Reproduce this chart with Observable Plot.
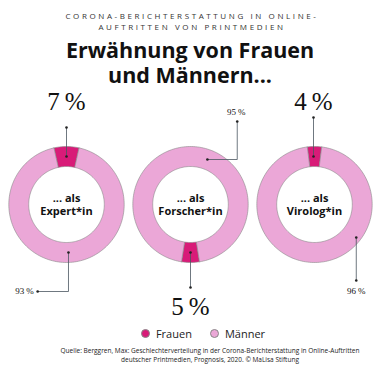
<!DOCTYPE html>
<html><head><meta charset="utf-8">
<script src="https://cdn.jsdelivr.net/npm/d3@7"></script>
<script src="https://cdn.jsdelivr.net/npm/@observablehq/plot@0.6"></script>
<style>
html,body{margin:0;padding:0;background:#fff;}
#wrap{width:380px;font-family:"Open Sans",sans-serif;color:#111;}
.sub{font-size:8px;letter-spacing:2.6px;text-align:center;color:#333;line-height:11px;padding-top:10px;margin-left:4px;}
.title{font-size:21.5px;font-weight:700;text-align:center;line-height:25px;margin-top:5px;color:#111;}
.legend{display:flex;justify-content:center;gap:18px;font-size:11px;color:#222;margin-top:6px;margin-left:26px;height:16px;align-items:center;}
.legend span{display:inline-flex;align-items:center;gap:6px;}
.legend i{display:inline-block;width:7px;height:7px;border-radius:50%;border:0.6px solid #888;}
.cap{font-size:6.5px;text-align:center;line-height:8.5px;color:#222;margin-top:6px;margin-left:40px;}
#chart svg{display:block;}
</style></head>
<body><div id="wrap">
<div class="sub">CORONA-BERICHTERSTATTUNG IN ONLINE-<br>AUFTRITTEN VON PRINTMEDIEN</div>
<div class="title">Erwähnung von Frauen<br>und Männern...</div>
<div id="chart"></div>
<div class="legend" id="legend"></div>
<div class="cap">Quelle: Berggren, Max: Geschlechterverteilung in der Corona-Berichterstattung in Online-Auftritten<br>deutscher Printmedien, Prognosis, 2020. © MaLisa Stiftung</div>
</div>
<script>
// ---- data ----
const categories = ["Expert*in", "Forscher*in", "Virolog*in"];
const frauen = [7, 5, 4];
const maenner = [93, 95, 96];
const seriesNames = ["Frauen", "Männer"];
const seriesColors = ["#d81b78", "#eba7d7"];

// ---- layout (not data) ----
const R_OUT = 58, R_IN = 38, R_MID = 48;
const frauenAt = [0, 180, 0]; // centre angle of Frauen segment (deg from top, clockwise)
const frauenPtr = [
  {path: [[0,-77],[0,-R_MID]], label: [0,-103], big: true, anchor: "middle"},
  {path: [[0,83],[0,R_MID]], label: [0,102], big: true, anchor: "middle"},
  {path: [[-1,-87],[-1,-R_MID]], label: [-1,-103], big: true, anchor: "middle"}
];
const maennerPtr = [
  {path: [[-29,87],[2,87],[2,R_MID]], label: [-33,87], big: false, anchor: "end"},
  {path: [[47,-83],[47,-45],[17,-45]], label: [46,-92], big: false, anchor: "middle"},
  {path: [[42,76],[42,33]], label: [42,87], big: false, anchor: "middle"}
];

// ---- build geometry from values ----
const rad = d => (d - 90) * Math.PI / 180;
function arcPoly(a0, a1) {
  const pts = [];
  const n = Math.max(2, Math.ceil(Math.abs(a1 - a0) / 2));
  for (let i = 0; i <= n; i++) { const a = rad(a0 + (a1 - a0) * i / n); pts.push([R_OUT * Math.cos(a), R_OUT * Math.sin(a)]); }
  for (let i = n; i >= 0; i--) { const a = rad(a0 + (a1 - a0) * i / n); pts.push([R_IN * Math.cos(a), R_IN * Math.sin(a)]); }
  pts.push(pts[0]);
  return pts;
}
const ring = [];
categories.forEach((c, i) => {
  const span = frauen[i] / (frauen[i] + maenner[i]) * 360;
  const f0 = frauenAt[i] - span / 2, f1 = frauenAt[i] + span / 2;
  arcPoly(f0, f1).forEach(([x, y]) => ring.push({cat: c, id: c + "F", s: "Frauen", x, y}));
  arcPoly(f1, f0 + 360).forEach(([x, y]) => ring.push({cat: c, id: c + "M", s: "Männer", x, y}));
});
const lines = [], ends = [], labels = [];
categories.forEach((c, i) => {
  [[frauenPtr[i], frauen[i], "F"], [maennerPtr[i], maenner[i], "M"]].forEach(([p, v, k]) => {
    p.path.forEach(([x, y]) => lines.push({cat: c, id: c + k, x, y}));
    ends.push({cat: c, x: p.path[0][0], y: p.path[0][1]});
    ends.push({cat: c, x: p.path[p.path.length - 1][0], y: p.path[p.path.length - 1][1]});
    labels.push({cat: c, x: p.label[0], y: p.label[1], text: v + "\u2009%", big: p.big, anchor: p.anchor});
  });
});
const centers = categories.map(c => ({cat: c, text: c}));

const W = 380, H = 232, ML = 3, MR = 3;
const fw = (W - ML - MR) / 3;
const serif = "'Liberation Serif', 'DejaVu Serif', serif";
const chart = Plot.plot({
  width: W, height: H,
  marginLeft: ML, marginRight: MR, marginTop: 0, marginBottom: 0,
  fx: {domain: categories, axis: null, padding: 0},
  x: {domain: [-fw / 2, fw / 2], axis: null},
  y: {domain: [-117, 115], range: [0, H], axis: null},
  color: {domain: seriesNames, range: seriesColors},
  style: {background: "transparent"},
  marks: [
    Plot.line(ring, {fx: "cat", x: "x", y: "y", z: "id", fill: "s", stroke: "#8a8a8a", strokeWidth: 0.6, curve: "linear"}),
    Plot.line(lines, {fx: "cat", x: "x", y: "y", z: "id", stroke: "#4a5560", strokeWidth: 0.8}),
    Plot.dot(ends, {fx: "cat", x: "x", y: "y", r: 1.3, fill: "#222", stroke: null}),
    Plot.text(labels.filter(d => d.big), {fx: "cat", x: "x", y: "y", text: "text", fontSize: 25, fontFamily: serif, fill: "#111", textAnchor: "middle"}),
    Plot.text(labels.filter(d => !d.big && d.anchor === "end"), {fx: "cat", x: "x", y: "y", text: "text", fontSize: 9, fontFamily: serif, fill: "#111", textAnchor: "end"}),
    Plot.text(labels.filter(d => !d.big && d.anchor !== "end"), {fx: "cat", x: "x", y: "y", text: "text", fontSize: 9, fontFamily: serif, fill: "#111", textAnchor: "middle"}),
    Plot.text(centers, {fx: "cat", x: () => 0, y: () => 0, dy: -6, text: () => "... als", fontSize: 11, fontWeight: 700, fontFamily: "Open Sans", fill: "#111"}),
    Plot.text(centers, {fx: "cat", x: () => 0, y: () => 0, dy: 7, text: "text", fontSize: 11, fontWeight: 700, fontFamily: "Open Sans", fill: "#111"})
  ]
});
document.getElementById("chart").appendChild(chart);

const lg = document.getElementById("legend");
seriesNames.forEach((n, i) => {
  const s = document.createElement("span");
  s.innerHTML = `<i style="background:${seriesColors[i]}"></i>${n}`;
  lg.appendChild(s);
});
</script>
</body></html>
